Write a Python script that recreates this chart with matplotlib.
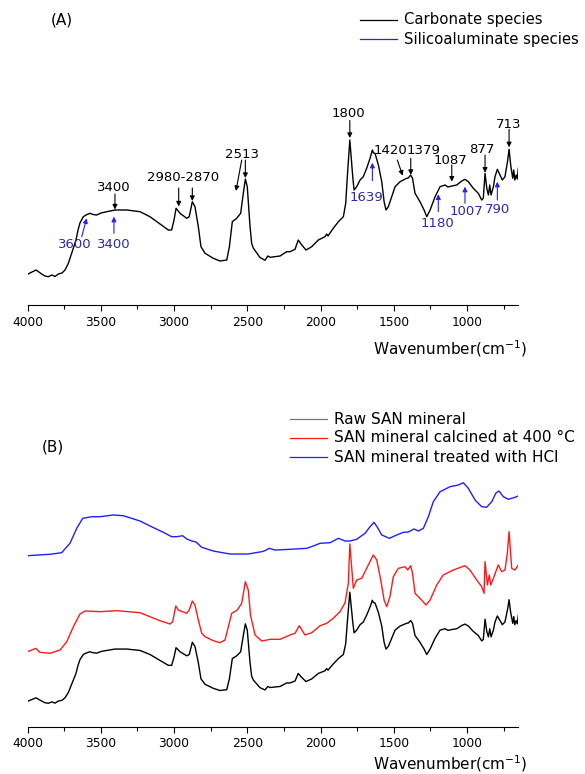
import numpy as np
import matplotlib
matplotlib.use("Agg")
import matplotlib.pyplot as plt
from matplotlib.lines import Line2D
from matplotlib.ticker import MultipleLocator

plt.rcParams["font.family"] = ["DejaVu Sans"]
plt.rcParams["mathtext.default"] = "regular"

# ---------------- spectra (wavenumber in cm-1, absorbance in a.u.) ----------------
wn_raw = [4000, 3942, 3903, 3881, 3858, 3833, 3812, 3790, 3764, 3744,
          3721, 3698, 3683, 3669, 3655, 3642, 3619, 3601, 3573, 3553,
          3528, 3498, 3459, 3403, 3323, 3232, 3164, 3096, 3039, 3016,
          3000, 2986, 2959, 2913, 2896, 2875, 2857, 2834, 2816, 2788,
          2732, 2686, 2640, 2622, 2602, 2572, 2545, 2527, 2513, 2500,
          2481, 2470, 2459, 2413, 2379, 2360, 2345, 2299, 2276, 2231,
          2208, 2174, 2152, 2128, 2099, 2060, 2015, 1969, 1958, 1949,
          1913, 1878, 1844, 1828, 1817, 1800, 1780, 1771, 1753, 1730,
          1708, 1685, 1662, 1646, 1638, 1628, 1605, 1582, 1566, 1553,
          1537, 1514, 1491, 1457, 1435, 1412, 1401, 1385, 1372, 1355,
          1321, 1293, 1275, 1252, 1218, 1184, 1150, 1130, 1104, 1070,
          1036, 1014, 991, 957, 923, 900, 889, 877, 865, 854,
          845, 836, 820, 809, 793, 775, 759, 741, 722, 713,
          702, 688, 681, 674, 665, 657, 650]
ab_raw = [31.2, 35.5, 31.5, 29.5, 28.8, 30.5, 29.0, 31.5, 32.5, 35.5,
          42.2, 52.5, 59.5, 65.5, 75.5, 82.5, 88.8, 90.5, 92.2, 91.0,
          90.5, 92.5, 93.8, 95.5, 95.5, 93.8, 88.8, 81.5, 75.5, 75.5,
          85.5, 97.2, 92.2, 87.2, 88.8, 103.8, 98.8, 78.8, 58.8, 52.2,
          47.2, 44.5, 45.5, 58.8, 83.8, 87.2, 92.2, 112.2, 126.5, 118.8,
          78.8, 62.2, 57.5, 48.0, 45.2, 49.5, 48.2, 49.0, 49.5, 53.8,
          53.8, 56.2, 65.5, 60.5, 55.5, 58.8, 65.5, 68.8, 71.5, 69.5,
          77.2, 83.8, 88.8, 102.2, 128.8, 165.5, 128.8, 115.5, 118.8, 125.5,
          128.8, 137.2, 147.2, 155.5, 152.5, 152.2, 140.5, 123.8, 103.8, 95.5,
          98.8, 108.8, 118.8, 123.8, 125.5, 127.2, 127.5, 130.5, 127.2, 112.2,
          103.8, 95.5, 88.8, 95.5, 108.8, 118.8, 120.5, 118.5, 119.5, 120.5,
          124.5, 126.2, 123.8, 117.2, 112.2, 105.5, 107.2, 132.2, 117.2, 110.5,
          120.5, 110.5, 118.8, 128.8, 136.2, 130.5, 125.5, 128.8, 145.5, 156.2,
          140.5, 127.2, 135.5, 125.5, 130.5, 126.5, 137.2]

wn_calc = [4000, 3971, 3944, 3915, 3846, 3778, 3732, 3687, 3642, 3607,
           3505, 3391, 3232, 3164, 3096, 3027, 3009, 2988, 2971, 2913,
           2896, 2875, 2857, 2834, 2811, 2788, 2732, 2686, 2652, 2606,
           2568, 2538, 2513, 2493, 2478, 2447, 2401, 2367, 2345, 2276,
           2208, 2174, 2145, 2106, 2060, 2003, 1958, 1913, 1867, 1833,
           1810, 1800, 1776, 1753, 1719, 1685, 1640, 1616, 1589, 1566,
           1548, 1526, 1503, 1469, 1423, 1405, 1385, 1372, 1355, 1321,
           1280, 1252, 1207, 1162, 1094, 1014, 980, 934, 900, 884,
           877, 861, 848, 838, 816, 787, 763, 741, 725, 713,
           695, 672, 650]
ab_calc = [32.3, 34.3, 36.4, 31.5, 30.3, 34.3, 44.6, 63.0, 78.6, 82.3,
           81.5, 82.7, 80.2, 75.3, 70.4, 66.3, 69.2, 88.5, 83.5, 79.5,
           83.5, 94.6, 89.7, 71.2, 54.9, 50.7, 45.8, 43.3, 46.6, 79.5,
           83.5, 91.8, 118.4, 108.1, 77.4, 52.8, 45.4, 46.6, 47.5, 47.5,
           52.8, 54.9, 64.2, 52.8, 55.6, 64.2, 67.2, 73.3, 81.5, 92.2,
           116.4, 164.7, 110.2, 120.4, 122.5, 134.8, 151.2, 145.0, 120.4, 95.8,
           87.6, 99.9, 124.5, 134.8, 136.8, 132.7, 138.0, 128.7, 104.1, 97.9,
           89.7, 95.8, 114.3, 126.6, 132.7, 138.0, 132.7, 120.4, 112.2, 104.1,
           143.0, 114.3, 126.6, 114.3, 124.5, 138.9, 130.7, 132.7, 153.3, 179.9,
           134.8, 132.7, 139.0]

wn_hcl = [4000, 3846, 3767, 3710, 3664, 3623, 3562, 3505, 3414, 3346,
          3232, 3164, 3073, 3016, 2982, 2941, 2913, 2879, 2850, 2811,
          2732, 2618, 2495, 2401, 2379, 2350, 2311, 2208, 2094, 2049,
          2003, 1935, 1878, 1833, 1799, 1753, 1696, 1662, 1635, 1612,
          1582, 1530, 1480, 1435, 1401, 1362, 1332, 1298, 1264, 1230,
          1184, 1116, 1059, 1025, 991, 945, 900, 866, 831, 804,
          782, 752, 718, 672, 650]
ab_hcl = [10.3, 12.1, 14.0, 25.6, 44.0, 56.3, 58.3, 58.3, 60.4, 59.5,
          53.0, 46.9, 39.1, 33.7, 33.7, 34.9, 30.9, 28.4, 27.2, 20.7,
          16.1, 12.4, 12.4, 15.3, 16.5, 19.4, 17.3, 18.2, 19.4, 22.3,
          25.6, 26.3, 31.7, 28.4, 28.4, 30.5, 37.9, 46.0, 51.4, 45.3,
          35.8, 31.7, 35.8, 39.1, 39.5, 43.2, 40.7, 44.0, 58.3, 76.8,
          89.0, 95.2, 97.3, 100.1, 93.2, 78.8, 70.6, 69.9, 76.8, 87.1,
          89.9, 82.9, 79.7, 82.2, 83.8]

series_names = ["Raw SAN mineral", "SAN mineral calcined at 400 \u00b0C",
                "SAN mineral treated with HCl"]
species_names = ["Carbonate species", "Silicoaluminate species"]

# band assignments in panel (A): label, text anchor, arrows (tail, head)
carbonate_bands = [
    ("3400", (3414, 118.0), [((3403, 111.5), (3403, 96.0))]),
    ("2980-2870", (2941, 128.0), [((2968, 117.5), (2968, 99.0)),
                                  ((2875, 117.5), (2875, 104.5))]),
    ("2513", (2538, 150.5), [((2513, 145.5), (2513, 127.5)),
                             ((2538, 145.5), (2577, 114.5))]),
    ("1800", (1810, 192.0), [((1800, 185.0), (1800, 167.5))]),
    ("1420", (1526, 154.8), [((1476, 145.5), (1439, 129.8))]),
    ("1379", (1296, 154.8), [((1384, 147.2), (1384, 130.5))]),
    ("1087", (1116, 145.5), [((1104, 140.5), (1104, 123.8))]),
    ("877", (900, 156.2), [((877, 150.5), (877, 132.8))]),
    ("713", (718, 181.2), [((713, 176.2), (713, 158.2))]),
]
silico_bands = [
    ("3600", (3676, 61.2), [((3630, 68.8), (3596, 87.2))]),
    ("3400", (3410, 61.2), [((3410, 72.2), (3410, 88.8))]),
    ("1639", (1685, 108.2), [((1646, 124.8), (1646, 142.8))]),
    ("1180", (1203, 82.2), [((1196, 93.8), (1196, 111.2))]),
    ("1007", (1007, 93.8), [((1014, 102.2), (1014, 118.8))]),
    ("790", (790, 96.2), [((793, 105.5), (793, 123.8))]),
]

# ---------------- figure ----------------
W, H = 585, 774
fig = plt.figure(figsize=(W / 100, H / 100), dpi=100)


def fx(px):
    return px / W


def fy(py):
    return 1 - py / H


X_HI, X_LO = 4000, 650
AX_L, AX_W = 27.5, 490.8
B_SCALE = 0.813
CALC_SHIFT, HCL_SHIFT = 60.0, 200.0

BLUE_LINE = "#2020ff"
BLUE_TEXT = "#2b2ba6"
RED_LINE = "#ff1a1a"
LW = 1.0


def style_axis(ax):
    for s in ("left", "top", "right"):
        ax.spines[s].set_visible(False)
    ax.spines["bottom"].set_linewidth(0.8)
    ax.set_yticks([])
    ax.set_xlim(X_HI, X_LO)
    ax.xaxis.set_major_locator(MultipleLocator(500))
    ax.xaxis.set_minor_locator(MultipleLocator(250))
    ax.tick_params(axis="x", which="major", direction="out", length=4.3,
                   width=0.8, labelsize=8.8, pad=3)
    ax.tick_params(axis="x", which="minor", direction="out", length=2.8,
                   width=0.8)
    ax.patch.set_alpha(0)


# panel A
axA = fig.add_axes([fx(AX_L), fy(305.5), fx(AX_W), 295.5 / H])
style_axis(axA)
axA.set_ylim(0, 295.5)
axA.plot(wn_raw, ab_raw, color="black", lw=LW)

for label, (tx, ty), arrows in carbonate_bands:
    axA.text(tx, ty, label, ha="center", va="center", fontsize=9.5,
             color="black")
    for tail, head in arrows:
        axA.annotate("", xy=head, xytext=tail,
                     arrowprops=dict(arrowstyle="-|>", color="black", lw=0.8,
                                     mutation_scale=7, shrinkA=0, shrinkB=0))
for label, (tx, ty), arrows in silico_bands:
    axA.text(tx, ty, label, ha="center", va="center", fontsize=9.5,
             color=BLUE_TEXT)
    for tail, head in arrows:
        axA.annotate("", xy=head, xytext=tail,
                     arrowprops=dict(arrowstyle="-|>", color=BLUE_LINE, lw=0.8,
                                     mutation_scale=7, shrinkA=0, shrinkB=0))

# panel B
axB = fig.add_axes([fx(AX_L), fy(726.7), fx(AX_W), 326.7 / H])
style_axis(axB)
axB.set_ylim(0, 326.7 / B_SCALE)
axB.plot(wn_raw, ab_raw, color="black", lw=LW)
axB.plot(wn_calc, np.array(ab_calc) + CALC_SHIFT, color=RED_LINE, lw=LW)
axB.plot(wn_hcl, np.array(ab_hcl) + HCL_SHIFT, color=BLUE_LINE, lw=LW)

# axis titles and panel letters
for py in (348.3, 764.0):
    fig.text(fx(450), fy(py), "Wavenumber(cm$^{-1}$)", ha="center",
             va="center", fontsize=11)
fig.text(fx(62), fy(20), "(A)", ha="center", va="center", fontsize=11)
fig.text(fx(53), fy(446.7), "(B)", ha="center", va="center", fontsize=11)


# legends
def legend_row(x0, x1, xt, py, color, text, size):
    fig.add_artist(Line2D([fx(x0), fx(x1)], [fy(py), fy(py)], color=color,
                          lw=0.9, transform=fig.transFigure))
    fig.text(fx(xt), fy(py), text, ha="left", va="center", fontsize=size)


legend_row(360, 397.3, 404, 19.8, "black", species_names[0], 10.7)
legend_row(360, 397.3, 404, 39.3, BLUE_LINE, species_names[1], 10.7)

legend_row(290, 326.7, 334.3, 419, "#777777", series_names[0], 11.0)
legend_row(290, 326.7, 334.3, 438, RED_LINE, series_names[1], 11.0)
legend_row(290, 326.7, 334.3, 457.3, BLUE_LINE, series_names[2], 11.0)

fig.savefig("out.png", dpi=100)
